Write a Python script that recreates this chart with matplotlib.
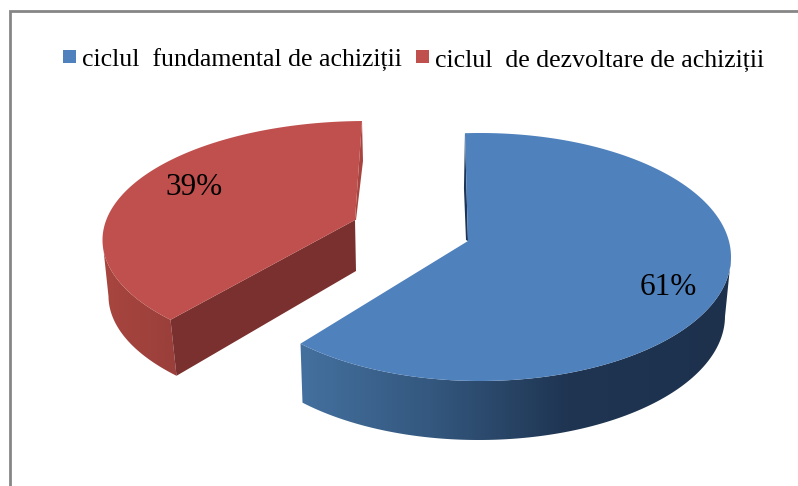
import numpy as np
import matplotlib
matplotlib.use("Agg")
import matplotlib.pyplot as plt
from matplotlib.patches import Polygon, Rectangle
from matplotlib.colors import LinearSegmentedColormap

labels = ["ciclul  fundamental de achiziții", "ciclul  de dezvoltare de achiziții"]
shares = [61, 39]
pct_labels = ["61%", "39%"]
colors = ["#4F81BD", "#C0504D"]

W, H = 798, 486
plt.rcParams["font.family"] = ["Liberation Serif", "DejaVu Serif"]

fig = plt.figure(figsize=(W / 100, H / 100), dpi=100)
ax = fig.add_axes([0, 0, 1, 1])

# outer chart frame
ax.add_patch(Rectangle((9.5, 11), 790, 480, fc="white", ec="#868686", lw=2, zorder=0))


def boost(q, p):
    # projective map of the unit disc that sends 0 to p
    n2 = p @ p
    g = np.sqrt(1 - n2)
    along = (q @ p)[..., None] * p / n2
    return (p + (1 - g) * along + g * q) / (1 + q @ p)[..., None]


def slice_arc(a, centre, rx, ry, apex, top):
    # a = clockwise angle from 12 o'clock on the flat pie -> pixels on the tilted ellipse
    c, r = np.array(centre, float), np.array([rx, ry], float)
    p = (np.array(apex) - c) / r
    q0 = boost((np.array(top) - c) / r, -p)
    off = np.arctan2(q0[0], -q0[1])
    q = np.column_stack([np.sin(a + off), -np.cos(a + off)])
    return c + r * boost(q, p)


def wall(arc, dx0, dx1, dy, cmap, z):
    # curved side of a slice, gradient image clipped to the strip
    t = (arc[:, 0] - arc[:, 0].min()) / (arc[:, 0].max() - arc[:, 0].min())
    low = arc + np.column_stack([dx0 + (dx1 - dx0) * t, np.full_like(t, dy)])
    xr = [min(arc[:, 0].min(), low[:, 0].min()), max(arc[:, 0].max(), low[:, 0].max())]
    yr = [arc[:, 1].min(), low[:, 1].max()]
    im = ax.imshow(np.linspace(0, 1, 256).reshape(1, -1), cmap=cmap, aspect="auto",
                   extent=[xr[0], xr[1], yr[1], yr[0]], zorder=z, interpolation="bilinear")
    clip = Polygon(np.vstack([arc, low[::-1]]), closed=True, transform=ax.transData, fc="none", ec="none")
    ax.add_patch(clip)
    im.set_clip_path(clip)


split = 2 * np.pi * shares[0] / sum(shares)

blue_wall = LinearSegmentedColormap.from_list("b", [(0, "#44709F"), (0.3, "#34587F"), (0.62, "#1F3552"), (1, "#1D314D")])
red_wall = LinearSegmentedColormap.from_list("r", ["#A8453F", "#9A3F3B"])

# blue slice
apex = np.array([468.0, 241.0])
arc = slice_arc(np.linspace(0, split, 300), (480, 257), 251, 124, apex, (465, 135))
wall(arc[np.argmax(arc[:, 0]):], 2, -6, 59, blue_wall, 2)
ax.add_patch(Polygon([arc[0], arc[0] + [-1, 55], apex + [-2, -1], apex], fc="#1D3557", ec="none", zorder=2))
ax.add_patch(Polygon(np.vstack([[apex], arc]), fc=colors[0], ec="none", zorder=3))

# red slice
apex_r = np.array([355.0, 220.0])
arc_r = slice_arc(np.linspace(split, 2 * np.pi, 300), (366, 240), 263.5, 119, (359.5, 220), (362, 121))
wall(arc_r[:np.argmin(arc_r[:, 0]) + 1], 6, 6, 56, red_wall, 2)
ax.add_patch(Polygon([arc_r[0], apex_r, apex_r + [1, 51], arc_r[0] + [6, 56]], fc="#7A302E", ec="none", zorder=3))
ax.add_patch(Polygon([arc_r[-1], arc_r[-1] + [1, 40], apex_r + [1, 0], apex_r], fc="#A8443F", ec="none", zorder=3))
ax.add_patch(Polygon(np.vstack([[apex_r], arc_r]), fc=colors[1], ec="none", zorder=4))

# percent labels
ax.text(668, 287.5, pct_labels[0], fontsize=22.5, ha="center", va="center", color="black", zorder=5)
ax.text(194, 187.5, pct_labels[1], fontsize=22.5, ha="center", va="center", color="black", zorder=5)

# legend
ax.add_patch(Rectangle((62.5, 50), 13, 13, fc=colors[0], ec="none"))
ax.add_patch(Rectangle((416, 50), 13, 13, fc=colors[1], ec="none"))
ax.text(82, 60.5, labels[0], fontsize=18.6, va="center", ha="left", color="black")
ax.text(435, 60.5, labels[1], fontsize=18.6, va="center", ha="left", color="black")

ax.set_xlim(0, W)
ax.set_ylim(H, 0)
ax.axis("off")
fig.savefig("out.png", dpi=100)
